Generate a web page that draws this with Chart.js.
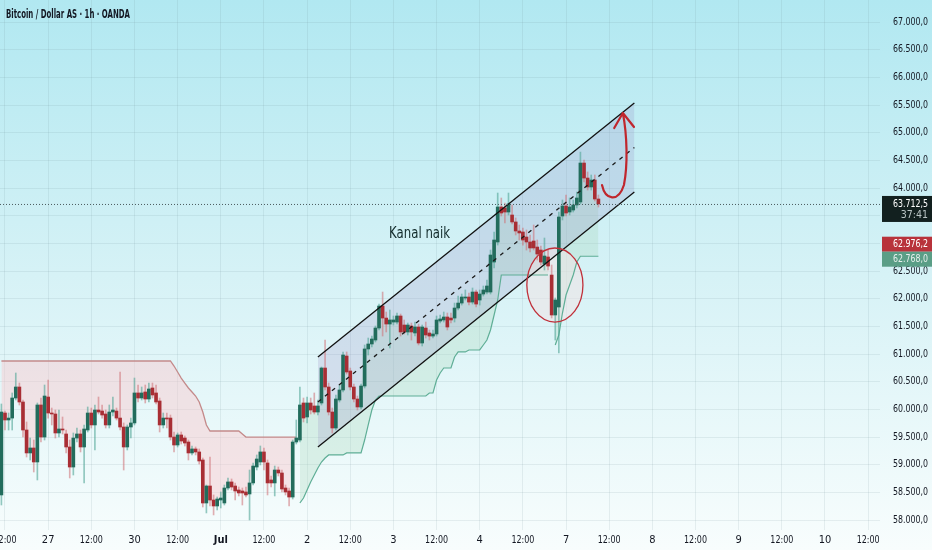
<!DOCTYPE html>
<html>
<head>
<meta charset="utf-8">
<title>Bitcoin / Dollar AS · 1h · OANDA</title>
<script src="https://cdn.jsdelivr.net/npm/chart.js@4.4.1/dist/chart.umd.min.js"></script>
<style>
  html, body { margin: 0; padding: 0; background: #ffffff; }
  #wrap { width: 932px; height: 550px; }
</style>
</head>
<body>
<div id="wrap"><canvas id="btcChart" width="932" height="550"></canvas></div>
<script>
// hourly candles, index 0 = 26 Jun 12:00 (weekend hours are not on the axis)
const firstIndex = -1;

const opens = [
  58454, 59935, 59809, 59844, 60206, 60405, 60134, 59628, 59213, 59303,
  59050, 60080, 59501, 60224, 59935, 59917, 59574, 59646, 59556, 59321,
  58959, 59483, 59556, 59321, 59628, 59935, 59719, 59989, 59971, 59917,
  59719, 59953, 59971, 59844, 59682, 59321, 59682, 59755, 60297, 60206,
  60315, 60188, 60387, 60297, 60152, 59719, 59844, 59844, 59501, 59357,
  59538, 59483, 59411, 59213, 59285, 59231, 59086, 58309, 58616, 58363,
  58255, 58363, 58309, 58580, 58689, 58616, 58544, 58526, 58508, 58472,
  58671, 58959, 59050, 59231, 59032, 58725, 58671, 58905, 58851, 58580,
  58526, 58417, 59411, 59447, 60116, 59863, 60116, 60062, 59953, 60116,
  60748, 60405, 59953, 59664, 60170, 60351, 60965, 60694, 60405, 60188,
  60044, 60423, 61092, 61182, 61254, 61471, 61868, 61651, 61543, 61579,
  61579, 61688, 61525, 61399, 61507, 61381, 61489, 61200, 61471, 61381,
  61326, 61363, 61597, 61616, 61670, 61651, 61651, 61832, 61922, 62013,
  62031, 61940, 62121, 61977, 62085, 62121, 62121, 62663, 63025, 63658,
  63640, 63567, 63513, 63387, 63224, 63206, 63115, 63025, 63043, 62934,
  62880, 62627, 62754, 62428, 61706, 61850, 63495, 63676, 63567, 63603,
  63694, 63748, 64452, 64181, 64019, 64145, 63802
];
const highs = [
  60098, 59971, 59935, 60297, 60658, 60477, 60170, 59773, 59483, 59447,
  60116, 60206, 60441, 60531, 60025, 59989, 59989, 59863, 59628, 59447,
  59574, 59664, 59628, 59719, 60044, 60025, 60080, 60224, 60080, 59989,
  60080, 60224, 60025, 60676, 59755, 59719, 59844, 60567, 60441, 60405,
  60441, 60477, 60477, 60441, 60206, 59935, 59935, 59899, 59592, 59574,
  59592, 59520, 59447, 59339, 59321, 59285, 59122, 58634, 59140, 58454,
  58417, 58508, 58634, 58761, 58743, 58671, 58598, 58580, 58598, 58905,
  59032, 59177, 59339, 59303, 59086, 58797, 58977, 58959, 58905, 58634,
  58580, 59447, 59809, 60405, 60206, 60224, 60206, 60297, 60170, 60766,
  61254, 60477, 60025, 60261, 60441, 61038, 61038, 60748, 60459, 60242,
  60459, 61164, 61290, 61326, 61507, 61904, 62121, 61760, 61796, 61688,
  61742, 61724, 61616, 61561, 61561, 61579, 61543, 61525, 61579, 61435,
  61435, 61688, 61706, 61760, 61742, 61742, 61922, 62049, 62085, 62158,
  62103, 62194, 62158, 62158, 62230, 62338, 62880, 63206, 63910, 63820,
  63730, 63910, 63694, 63459, 63332, 63278, 63242, 63152, 63332, 63061,
  62952, 63097, 62880, 62609, 62013, 63567, 63784, 63874, 63820, 63784,
  63928, 64650, 64506, 64290, 64236, 64236, 63874
];
const lows = [
  58273, 59628, 59628, 59628, 60170, 60080, 59501, 59140, 59086, 58869,
  58725, 59411, 59447, 59844, 59719, 59483, 59501, 59556, 59213, 58761,
  58815, 59411, 59231, 58671, 59592, 59664, 59267, 59917, 59844, 59664,
  59664, 59881, 59809, 59628, 58905, 59267, 59483, 59719, 60134, 60170,
  60116, 60134, 60206, 60098, 59592, 59664, 59664, 59447, 59231, 59321,
  59375, 59339, 59086, 59177, 59177, 59014, 58237, 58129, 58255, 58093,
  58183, 58219, 58273, 58544, 58544, 58363, 58436, 58273, 58417, 58002,
  58634, 58905, 58996, 58905, 58454, 58598, 58436, 58797, 58508, 58454,
  58255, 58381, 59375, 59411, 59773, 59755, 59917, 59917, 59899, 60080,
  60351, 59899, 59574, 59628, 60134, 60315, 60640, 60351, 60134, 59989,
  60007, 60387, 60983, 61128, 61218, 61435, 61326, 61399, 61110, 61525,
  61543, 61326, 61363, 61345, 61254, 61326, 61164, 61146, 61290, 61254,
  61290, 61326, 61561, 61579, 61435, 61561, 61579, 61796, 61886, 61977,
  61886, 61904, 61850, 61886, 62049, 62085, 62085, 62555, 62970, 63495,
  63368, 63513, 63351, 63152, 63061, 62970, 62880, 62844, 62880, 62700,
  62609, 62519, 62519, 61652, 61254, 61020, 63423, 63495, 63513, 63567,
  63640, 63712, 64109, 63964, 63964, 63766, 63657
];
const closes = [
  59953, 59809, 59844, 60206, 60405, 60134, 59628, 59213, 59303, 59050,
  60080, 59501, 60242, 59935, 59917, 59574, 59646, 59628, 59321, 58959,
  59483, 59556, 59321, 59646, 59935, 59719, 59989, 59953, 59899, 59719,
  59953, 59989, 59844, 59682, 59321, 59682, 59755, 60297, 60206, 60297,
  60188, 60369, 60261, 60134, 59719, 59844, 59827, 59501, 59357, 59538,
  59429, 59393, 59213, 59285, 59231, 59068, 58309, 58616, 58363, 58255,
  58381, 58399, 58580, 58689, 58598, 58526, 58490, 58490, 58454, 58671,
  58977, 59104, 59231, 59050, 58671, 58671, 58905, 58851, 58562, 58508,
  58417, 59411, 59483, 60080, 59844, 60116, 59989, 59953, 60062, 60748,
  60405, 59953, 59664, 60188, 60351, 60983, 60676, 60405, 60188, 60044,
  60423, 61092, 61182, 61272, 61471, 61868, 61651, 61543, 61616, 61616,
  61688, 61399, 61399, 61525, 61399, 61489, 61200, 61489, 61345, 61326,
  61363, 61616, 61634, 61670, 61489, 61616, 61832, 61922, 62031, 62031,
  61940, 62121, 61904, 62085, 62158, 62230, 62790, 63061, 63658, 63549,
  63567, 63712, 63387, 63224, 63188, 63061, 63025, 62917, 62917, 62808,
  62663, 62772, 62591, 61706, 61977, 63477, 63676, 63549, 63658, 63694,
  63820, 64452, 64181, 64019, 64145, 63802, 63712.5
];

// trailing trend line (bearish part, then bullish part)
const redTrendStart = -1;
const redTrend = [
  60875, 60875, 60875, 60875, 60875, 60875, 60875, 60875, 60875, 60875,
  60875, 60875, 60875, 60875, 60875, 60875, 60875, 60875, 60875, 60875,
  60875, 60875, 60875, 60875, 60875, 60875, 60875, 60875, 60875, 60875,
  60875, 60875, 60875, 60875, 60875, 60875, 60875, 60875, 60875, 60875,
  60875, 60875, 60875, 60875, 60875, 60875, 60875, 60875, 60784, 60676,
  60567, 60477, 60387, 60315, 60242, 60134, 59953, 59719, 59610, 59610,
  59610, 59610, 59610, 59610, 59610, 59610, 59610, 59556, 59501, 59501,
  59501, 59501, 59501, 59501, 59501, 59501, 59501, 59501, 59501, 59501,
  59501, 59501, 59501
];
const greenTrendStart = 82;
const greenTrend = [
  58309, 58399, 58544, 58689, 58815, 58941, 59050, 59122, 59177, 59177,
  59177, 59177, 59177, 59213, 59213, 59213, 59213, 59213, 59447, 59719,
  59989, 60170, 60242, 60242, 60242, 60242, 60242, 60242, 60242, 60242,
  60242, 60242, 60242, 60242, 60242, 60242, 60297, 60297, 60531, 60658,
  60748, 60748, 60748, 60947, 61038, 61038, 61038, 61074, 61074, 61074,
  61074, 61164, 61254, 61435, 61706, 61977, 62429, 62429, 62429, 62429,
  62429, 62429, 62429, 62429, 62429, 62429, 62429, 62429, 62429, 62429,
  null, 61164, 61345, 61742, 62067, 62248, 62429, 62663, 62768, 62768,
  62768, 62768, 62768, 62768
];

// drawn channel
const channelX = [87, 175];
const channelUpper = [60947, 65537];
const channelLower = [59321, 63928];
const channelMid = [60134, 64733];

// axes
const xTickPos = [0, 12, 24, 36, 48, 60, 72, 84, 96, 108, 120, 132, 144, 156, 168, 180, 192, 204, 216, 228, 240];
const xTickLabels = ['12:00', '27', '12:00', '30', '12:00', 'Jul', '12:00', '2', '12:00', '3', '12:00', '4',
  '12:00', '7', '12:00', '8', '12:00', '9', '12:00', '10', '12:00'];
const yTicks = [58000, 58500, 59000, 59500, 60000, 60500, 61000, 61500, 62000, 62500,
  63000, 63500, 64000, 64500, 65000, 65500, 66000, 66500, 67000];

const lastPrice = 63712.5;
const countdown = '37:41';
const redLevel = 62976.2;
const greenLevel = 62768.0;

// annotations (in index / price units)
const circleCenter = [152.9, 62248];
const circleRadius = [7.8, 669];
const arrowPts = [
  [166.0, 64055], [166.9, 63784], [170.5, 63730], [172.1, 64055],
  [173.2, 64416], [173.0, 64958], [171.8, 65356]
];
const arrowWings = [[169.4, 65085], [174.9, 65103]];
const noteText = 'Kanal naik';
const notePos = [106.8, 63097];
const titleText = 'Bitcoin / Dollar AS · 1h · OANDA';

const narrow = "'Liberation Sans Narrow', 'DejaVu Sans Condensed', 'Liberation Sans', sans-serif";
const upColor = '#226c5c';
const downColor = '#a82e34';

function fmt(v) {
  const s = v.toFixed(1).split('.');
  return s[0].replace(/\B(?=(\d{3})+(?!\d))/g, '.') + ',' + s[1];
}

function fitText(ctx, text, x, y, maxW, align) {
  const w = ctx.measureText(text).width;
  const k = w > maxW ? maxW / w : 1;
  ctx.save();
  ctx.translate(x, y);
  ctx.scale(k, 1);
  ctx.textAlign = align;
  ctx.fillText(text, 0, 0);
  ctx.restore();
}

const idx = opens.map((_, k) => firstIndex + k);
const isUp = closes.map((c, k) => c >= opens[k]);
const bodies = idx.map((x, k) => ({ x: x, y: [opens[k], closes[k]] }));
const wicks = idx.map((x, k) => ({ x: x, y: [lows[k], highs[k]] }));
const closeLine = idx.map((x, k) => ({ x: x, y: closes[k] }));
const redPts = redTrend.map((v, k) => ({ x: redTrendStart + k, y: v }));
const greenPts = greenTrend.map((v, k) => ({ x: greenTrendStart + k, y: v }));
const chanPts = arr => channelX.map((x, k) => ({ x: x, y: arr[k] }));

function ellipsePath(chart) {
  const xs = chart.scales.x, ys = chart.scales.y;
  const cx = xs.getPixelForValue(circleCenter[0]);
  const cy = ys.getPixelForValue(circleCenter[1]);
  const rx = xs.getPixelForValue(circleCenter[0] + circleRadius[0]) - cx;
  const ry = ys.getPixelForValue(circleCenter[1] - circleRadius[1]) - cy;
  chart.ctx.beginPath();
  chart.ctx.ellipse(cx, cy, rx, ry, 0, 0, Math.PI * 2);
}

const background = {
  id: 'background',
  beforeDraw(chart) {
    const ctx = chart.ctx;
    const g = ctx.createLinearGradient(0, 0, 0, chart.height);
    g.addColorStop(0, '#b1e8f1');
    g.addColorStop(0.5, '#d6f2f6');
    g.addColorStop(1, '#f8fdfd');
    ctx.save();
    ctx.fillStyle = g;
    ctx.fillRect(0, 0, chart.width, chart.height);
    ctx.restore();
  },
  beforeDatasetsDraw(chart) {
    const ctx = chart.ctx;
    ctx.save();
    ellipsePath(chart);
    ctx.fillStyle = 'rgba(240,228,230,0.55)';
    ctx.fill();
    ctx.restore();
  }
};

const overlay = {
  id: 'overlay',
  afterDatasetsDraw(chart) {
    const ctx = chart.ctx;
    const xs = chart.scales.x, ys = chart.scales.y;
    const area = chart.chartArea;
    const px = p => [xs.getPixelForValue(p[0]), ys.getPixelForValue(p[1])];

    // last price dotted line
    const yl = ys.getPixelForValue(lastPrice);
    ctx.save();
    ctx.strokeStyle = '#4a5a5e';
    ctx.lineWidth = 1;
    ctx.setLineDash([1, 2]);
    ctx.beginPath();
    ctx.moveTo(area.left, yl + 0.5);
    ctx.lineTo(area.right, yl + 0.5);
    ctx.stroke();
    ctx.restore();

    // circle outline
    ctx.save();
    ellipsePath(chart);
    ctx.strokeStyle = '#c0303a';
    ctx.lineWidth = 1.3;
    ctx.stroke();
    ctx.restore();

    // curved arrow
    const a = arrowPts.map(px);
    ctx.save();
    ctx.strokeStyle = '#c0262d';
    ctx.lineWidth = 2.2;
    ctx.lineCap = 'round';
    ctx.lineJoin = 'round';
    ctx.beginPath();
    ctx.moveTo(a[0][0], a[0][1]);
    ctx.bezierCurveTo(a[1][0], a[1][1], a[2][0], a[2][1], a[3][0], a[3][1]);
    ctx.bezierCurveTo(a[4][0], a[4][1], a[5][0], a[5][1], a[6][0], a[6][1]);
    const w = arrowWings.map(px);
    ctx.moveTo(w[0][0], w[0][1]);
    ctx.lineTo(a[6][0], a[6][1]);
    ctx.lineTo(w[1][0], w[1][1]);
    ctx.stroke();
    ctx.restore();

    // note
    const n = px(notePos);
    ctx.save();
    ctx.fillStyle = '#122b2b';
    ctx.font = '16px ' + narrow;
    ctx.textBaseline = 'alphabetic';
    fitText(ctx, noteText, n[0], n[1], 61, 'left');
    ctx.restore();
  },
  afterDraw(chart) {
    const ctx = chart.ctx;
    const xs = chart.scales.x, ys = chart.scales.y;
    ctx.save();
    ctx.fillStyle = '#131722';

    // title
    ctx.font = 'bold 12px ' + narrow;
    ctx.textBaseline = 'alphabetic';
    fitText(ctx, titleText, 6, 18, 124, 'left');

    // x labels
    ctx.textBaseline = 'middle';
    xTickPos.forEach((v, k) => {
      ctx.font = (xTickLabels[k] === 'Jul' ? 'bold ' : '') + '11px ' + narrow;
      fitText(ctx, xTickLabels[k], xs.getPixelForValue(v), 540, 23, 'center');
    });

    // y labels
    ctx.font = '10.5px ' + narrow;
    yTicks.forEach(v => {
      fitText(ctx, fmt(v), 928, ys.getPixelForValue(v), 35, 'right');
    });

    // price boxes
    const bx = 882, bw = 50;
    const yl = ys.getPixelForValue(lastPrice);
    ctx.fillStyle = '#12201f';
    ctx.fillRect(bx, yl - 8, bw, 26);
    ctx.fillStyle = '#ffffff';
    fitText(ctx, fmt(lastPrice), 928, yl, 35, 'right');
    ctx.fillStyle = '#b9c4c4';
    fitText(ctx, countdown, 928, yl + 11, 35, 'right');

    const yr = ys.getPixelForValue(redLevel);
    ctx.fillStyle = '#b8333b';
    ctx.fillRect(bx, yr - 8, bw, 15);
    ctx.fillStyle = '#ffffff';
    fitText(ctx, fmt(redLevel), 928, yr, 35, 'right');

    const yg = ys.getPixelForValue(greenLevel);
    const gTop = Math.max(yg - 7.5, yr + 7);
    ctx.fillStyle = '#5a9e86';
    ctx.fillRect(bx, gTop, bw, 15);
    ctx.fillStyle = '#e6efec';
    fitText(ctx, fmt(greenLevel), 928, gTop + 7.5, 35, 'right');
    ctx.restore();
  }
};

const gridColor = 'rgba(110,140,150,0.13)';

new Chart(document.getElementById('btcChart').getContext('2d'), {
  type: 'bar',
  data: {
    datasets: [
      { type: 'line', data: chanPts(channelUpper), borderColor: '#111111', borderWidth: 1.3,
        pointRadius: 0, fill: '+1', backgroundColor: 'rgba(145,130,190,0.2)', order: 0 },
      { type: 'line', data: chanPts(channelLower), borderColor: '#111111', borderWidth: 1.3,
        pointRadius: 0, fill: false, order: 0 },
      { type: 'line', data: chanPts(channelMid), borderColor: '#1a1a1a', borderWidth: 1.3,
        borderDash: [4, 5], pointRadius: 0, fill: false, order: 0 },
      { type: 'line', data: closeLine, borderColor: 'rgba(0,0,0,0)', borderWidth: 0,
        pointRadius: 0, fill: false, order: 5 },
      { type: 'line', data: redPts, borderColor: '#c48a8a', borderWidth: 1.3, pointRadius: 0,
        fill: { target: 3 }, backgroundColor: 'rgba(250,200,205,0.45)', order: 4 },
      { type: 'line', data: greenPts, borderColor: '#5fae96', borderWidth: 1.2, pointRadius: 0,
        spanGaps: false, fill: { target: 3 }, backgroundColor: 'rgba(168,216,187,0.3)', order: 4 },
      { type: 'bar', data: wicks, grouped: false, barThickness: 1,
        backgroundColor: isUp.map(u => u ? 'rgba(80,165,150,0.6)' : 'rgba(205,110,115,0.55)'), order: 2 },
      { type: 'bar', data: bodies, grouped: false, barThickness: 3, minBarLength: 1,
        backgroundColor: isUp.map(u => u ? upColor : downColor), order: 1 }
    ]
  },
  options: {
    responsive: false,
    animation: false,
    layout: { padding: 0 },
    plugins: {
      legend: { display: false },
      tooltip: { enabled: false },
      filler: { drawTime: 'beforeDatasetsDraw' }
    },
    scales: {
      x: {
        type: 'linear',
        offset: false,
        min: -1.39,
        max: 243.3,
        grid: { color: gridColor, drawTicks: false, offset: false },
        border: { display: false },
        ticks: { display: false },
        afterBuildTicks: s => { s.ticks = xTickPos.map(v => ({ value: v })); },
        afterFit: s => { s.height = 20; }
      },
      y: {
        position: 'right',
        min: 57821,
        max: 67398,
        grid: { color: gridColor, drawTicks: false },
        border: { display: false },
        ticks: { display: false },
        afterBuildTicks: s => { s.ticks = yTicks.map(v => ({ value: v })); },
        afterFit: s => { s.width = 52; }
      }
    }
  },
  plugins: [background, overlay]
});
</script>
</body>
</html>
